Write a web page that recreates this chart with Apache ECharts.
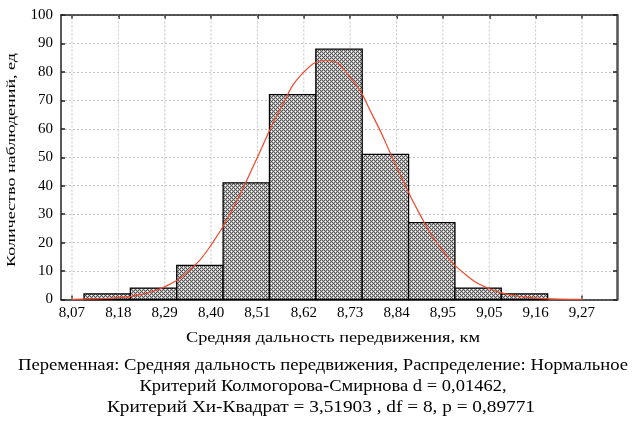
<!DOCTYPE html>
<html><head><meta charset="utf-8">
<script src="https://cdn.jsdelivr.net/npm/echarts@6/dist/echarts.min.js"></script>
<style>html,body{margin:0;padding:0;background:#fff}#c{width:632px;height:424px}</style>
</head><body><div id="c"></div>
<script>
// ---- data ----
const tickValues = [8.0735, 8.1825, 8.2915, 8.4005, 8.5095, 8.6185, 8.7275, 8.8365, 8.9455, 9.0545, 9.1635, 9.2725];
const tickLabels = ['8,07','8,18','8,29','8,40','8,51','8,62','8,73','8,84','8,95','9,05','9,16','9,27'];
const binStarts = [8.1018, 8.2108, 8.3198, 8.4288, 8.5378, 8.6468, 8.7558, 8.8648, 8.9738, 9.0828];
const binEnds   = [8.2108, 8.3198, 8.4288, 8.5378, 8.6468, 8.7558, 8.8648, 8.9738, 9.0828, 9.1918];
const counts    = [2, 4, 12, 41, 72, 88, 51, 27, 4, 2];
const curveX = [8.0735, 8.128, 8.1825, 8.237, 8.2915, 8.346, 8.4005, 8.455, 8.5095, 8.564, 8.6185, 8.673,
                8.7275, 8.782, 8.8365, 8.891, 8.9455, 9.0, 9.0545, 9.109, 9.1635, 9.218, 9.2725];
const curveY = [0.06, 0.2, 0.64, 1.8, 4.5, 9.8, 19.1, 32.9, 50.0, 67.2, 79.9, 84.0,
                78.1, 64.2, 46.7, 30.0, 17.1, 8.6, 3.8, 1.5, 0.5, 0.16, 0.05];
const xName = 'Средняя дальность передвижения, км';
const yName = 'Количество наблюдений, ед';
const notes = [
  'Переменная: Средняя дальность передвижения, Распределение: Нормальное',
  'Критерий Колмогорова-Смирнова d = 0,01462,',
  'Критерий Хи-Квадрат = 3,51903 , df = 8, p = 0,89771'
];

// ---- styling helpers ----
const SERIF = '"Liberation Serif", "Times New Roman", serif';
function makePattern(){
  const c = document.createElement('canvas'); c.width = 4; c.height = 4;
  const g = c.getContext('2d');
  g.fillStyle = '#505050'; g.fillRect(0,0,4,4);
  g.fillStyle = '#c0c0c0';
  [[0,1],[2,1],[1,0],[1,2],[3,2],[2,3],[0,3],[3,0]].forEach(p => g.fillRect(p[0],p[1],1,1));
  g.fillStyle = '#ffffff'; g.fillRect(1,1,1,1); g.fillRect(3,3,1,1);
  return c;
}
const pattern = makePattern();
const mctx = document.createElement('canvas').getContext('2d');
function fitScale(text, size, target){
  mctx.font = size + 'px ' + SERIF;
  const w = mctx.measureText(text).width;
  return w > 0 ? target / w : 1;
}
function label(text, x, y, size, target, rot){
  return {
    type: 'text', x: x, y: y, rotation: rot || 0, scaleX: fitScale(text, size, target), silent: true,
    style: { text: text, font: size + 'px ' + SERIF, fill: '#000',
             textAlign: 'center', textVerticalAlign: 'middle', align: 'center', verticalAlign: 'middle' }
  };
}
function nearestLabel(v){
  let bi = 0, bd = Infinity;
  tickValues.forEach((t,i) => { const d = Math.abs(t - v); if (d < bd) { bd = d; bi = i; } });
  return tickLabels[bi];
}

const xMin = 8.0477, xMax = 9.3548;
const axisCol = '#222';
const chart = echarts.init(document.getElementById('c'), null, {renderer: 'canvas'});
chart.setOption({
  animation: false,
  backgroundColor: '#fff',
  grid: { left: 61, right: 15, top: 15, bottom: 124.5, containLabel: false, outerBoundsMode: 'none' },
  xAxis: [{
    type: 'value', min: xMin, max: xMax, position: 'bottom',
    axisLine: { show: true, onZero: false, lineStyle: { color: axisCol, width: 1.5 } },
    axisTick: { show: true, inside: true, length: 4, customValues: tickValues, lineStyle: { color: axisCol, width: 1.5 } },
    axisLabel: { show: true, customValues: tickValues, formatter: v => nearestLabel(v), color: '#000',
                 fontFamily: SERIF, fontSize: 15, margin: 6 },
    splitLine: { show: false }
  }, {
    type: 'value', min: xMin, max: xMax, position: 'top',
    axisLine: { show: true, onZero: false, lineStyle: { color: axisCol, width: 1.5 } },
    axisTick: { show: true, inside: true, length: 4, customValues: tickValues, lineStyle: { color: axisCol, width: 1.5 } },
    axisLabel: { show: false }, splitLine: { show: false }
  }],
  yAxis: [{
    type: 'value', min: 0, max: 100, interval: 10, position: 'left',
    axisLine: { show: true, onZero: false, lineStyle: { color: axisCol, width: 1.5 } },
    axisTick: { show: true, inside: true, length: 4, lineStyle: { color: axisCol, width: 1.5 } },
    axisLabel: { color: '#000', fontFamily: SERIF, fontSize: 15, margin: 8 },
    splitLine: { show: true, lineStyle: { color: '#c4c4c4', width: 1, type: [2, 2] } }
  }, {
    type: 'value', min: 0, max: 100, interval: 10, position: 'right',
    axisLine: { show: true, onZero: false, lineStyle: { color: '#555', width: 2.5 } },
    axisTick: { show: true, inside: true, length: 4, lineStyle: { color: axisCol, width: 1.5 } },
    axisLabel: { show: false }, splitLine: { show: false }
  }],
  series: [{
    type: 'custom', name: 'vgrid', z: 1, silent: true,
    data: tickValues.map(v => [v]),
    encode: { x: 0 },
    renderItem: (params, api) => {
      const a = api.coord([api.value(0), 0]), b = api.coord([api.value(0), 100]);
      return { type: 'line', shape: { x1: a[0], y1: a[1], x2: b[0], y2: b[1] },
               style: { stroke: '#c4c4c4', lineWidth: 1, lineDash: [2, 2] } };
    }
  }, {
    type: 'custom', name: 'hist', z: 2, silent: true,
    data: binStarts.map((s, i) => [s, binEnds[i], counts[i]]),
    encode: { x: [0, 1], y: 2 },
    renderItem: (params, api) => {
      const p0 = api.coord([api.value(0), 0]), p1 = api.coord([api.value(1), api.value(2)]);
      return { type: 'rect', shape: { x: p0[0], y: p1[1], width: p1[0] - p0[0], height: p0[1] - p1[1] },
               style: { fill: { image: pattern, repeat: 'repeat' }, stroke: '#000', lineWidth: 1.3 } };
    }
  }, {
    type: 'line', name: 'normal', z: 3, silent: true,
    data: curveX.map((x, i) => [x, curveY[i]]),
    smooth: 0.5, symbol: 'none',
    lineStyle: { color: '#f0482c', width: 1.2 }
  }],
  graphic: [
    label(xName, 333, 338, 15, 294),
    label(yName, 12, 160, 12, 214, Math.PI / 2),
    label(notes[0], 323, 366, 16, 610),
    label(notes[1], 323, 387, 16, 367),
    label(notes[2], 321, 408, 16, 428)
  ]
});
</script></body></html>
